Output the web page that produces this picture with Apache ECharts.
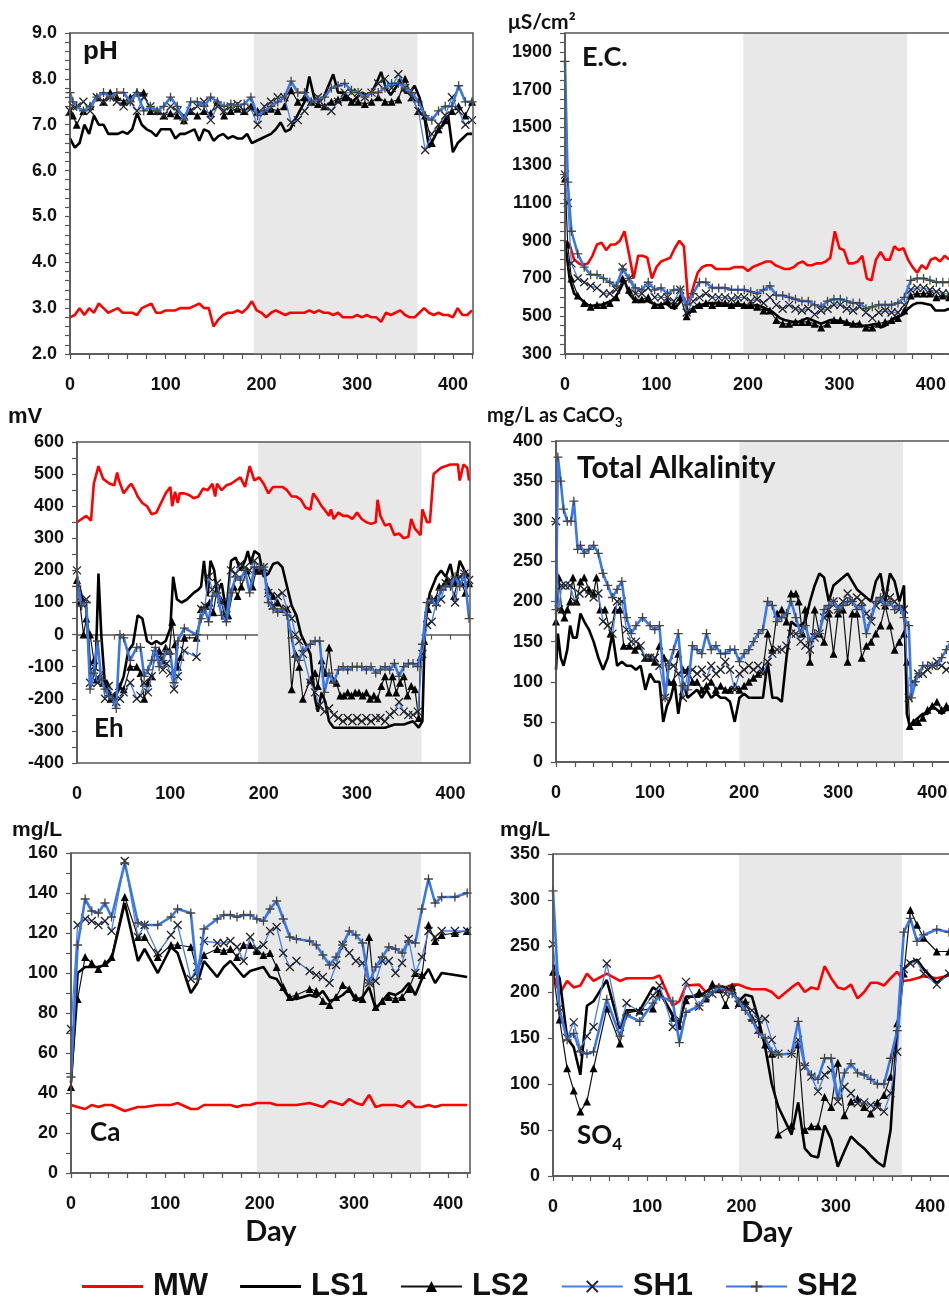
<!DOCTYPE html>
<html><head><meta charset="utf-8">
<script src="https://cdn.jsdelivr.net/npm/echarts@6/dist/echarts.min.js"></script>
<style>html,body{margin:0;padding:0;background:#fff}#c{width:949px;height:1298px}</style>
</head><body><div id="c"></div>
<script>
// ---------- pH ----------
const dayC = [0,5,10,15,20,25,30,35,40,45, 50,55,60,65,70,75,80,85,90,95, 100,105,110,115,120,125,130,135,140,145, 150,155,160,165,170,175,180,185,190,195, 200,205,210,215,220,225,230,235,240,245, 250,255,260,265,270,275,280,285,290,295, 300,305,310,315,320,325,330,335,340,345, 350,355,360,365,370,375,380,385,390,395, 400,405,410,415,420];
const dayW = [0,3,7,14,21,28,35,42,49,56, 63,70,77,84,91,98,105,112,119,126, 133,140,147,154,161,168,175,182,189,196, 203,210,217,224,231,238,245,252,259,266, 273,280,287,294,301,308,315,322,329,336, 343,350,357,364,371,378,385,392,399,406, 413,420];
const phMW = [2.8,2.85,3.0,2.85,3.0,2.9,3.1,3.0,2.9,2.95, 3.0,2.9,2.9,2.9,2.85,3.0,3.05,3.1,2.9,2.9, 2.95,2.95,2.95,3.0,3.0,3.0,3.05,3.1,3.0,3.0, 2.6,2.75,2.85,2.9,2.9,2.95,2.9,3.0,3.15,2.95, 2.9,2.8,2.9,2.95,2.9,2.85,2.9,2.9,2.9,2.9, 2.95,2.9,2.95,2.9,2.9,2.85,2.9,2.8,2.8,2.8, 2.85,2.8,2.85,2.8,2.8,2.7,2.9,2.85,2.9,2.95, 2.85,2.8,2.8,2.9,3.0,2.9,2.85,2.9,2.85,2.85, 2.8,3.0,2.85,2.85,2.95];
const phLS1 = [6.7,6.5,6.6,7.0,6.8,7.2,7.0,7.0,6.8,6.8, 6.8,6.85,6.8,6.9,7.25,7.0,6.9,6.85,6.75,6.9, 6.9,6.9,6.7,6.8,6.8,6.85,6.9,6.65,6.9,6.85, 6.65,6.75,6.8,6.7,6.75,6.7,6.7,6.8,6.6,6.65, 6.7,6.75,6.8,6.9,7.05,6.85,6.9,7.1,7.3,7.5, 8.05,7.6,7.5,7.6,7.85,8.1,7.7,7.7,7.6,7.5, 7.6,7.7,7.65,7.7,7.9,8.15,7.8,7.65,7.8,8.0, 7.7,7.7,7.85,7.6,7.2,6.5,6.7,6.9,7.0,7.2, 6.4,6.6,6.7,6.8,6.8];
const phLS2 = [7.3,7.2,7.0,7.3,7.4,7.6,7.5,7.7,7.6,7.5, 7.6,7.7,7.7,7.3,7.3,7.2,7.25,7.2,7.1,7.3, 7.2,7.3,7.25,7.5,7.2,7.3,7.35,7.3,7.4,7.3, 7.3,7.35,7.3,7.4,7.75,7.5,7.6,7.5,7.45,7.4, 7.5,7.55,7.6,7.5,7.5,7.45,7.5,7.6,7.5,7.5, 7.55,8.0,7.6,7.3,7.2,6.6,6.9,7.1,7.3,7.4, 7.2,7.5];
const phSH1 = [7.3,7.4,7.4,7.5,7.3,7.6,7.5,7.6,7.5,7.4, 7.5,7.3,7.6,7.4,7.3,7.2,7.4,7.3,7.2,7.3, 7.4,7.5,7.1,7.4,7.3,7.4,7.45,7.3,7.35,7.0, 7.4,7.5,7.6,7.6,7.05,7.1,7.3,7.5,7.6,7.4, 7.3,7.5,7.7,7.7,7.7,7.6,7.7,7.9,8.0,7.8, 8.1,7.8,7.6,7.3,6.45,6.8,7.0,7.2,7.6,7.3, 7.0,7.1];
const phSH2 = [7.7,7.5,7.4,7.3,7.4,7.6,7.7,7.6,7.7,7.7, 7.5,7.7,7.3,7.4,7.3,7.4,7.6,7.4,7.1,7.5, 7.5,7.4,7.6,7.5,7.4,7.45,7.4,7.45,7.6,7.2, 7.3,7.4,7.5,7.6,7.95,7.7,7.7,7.5,7.55,7.6, 7.8,7.85,7.9,7.75,7.7,7.6,7.7,7.7,7.8,7.9, 7.9,7.8,7.7,7.5,7.2,7.1,7.3,7.4,7.4,7.85, 7.5,7.5];

// ---------- E.C. ----------
const ecMW = [900,880,800,780,770,780,820,880,890,850, 880,880,900,950,830,700,820,820,810,700, 760,790,800,810,860,900,870,560,650,730, 760,770,770,750,750,750,750,760,760,760, 740,760,770,780,790,790,770,760,750,750, 760,780,790,770,770,780,780,790,810,950, 860,850,780,780,790,820,700,690,800,840, 800,800,870,850,860,800,760,730,770,750, 800,810,790,820,800];
const ecLS1 = [900,700,620,600,580,560,555,560,560,570, 580,600,640,690,620,590,580,580,580,570, 560,560,570,550,540,570,600,510,540,560, 560,570,570,570,570,560,560,560,560,560, 550,555,560,550,540,530,510,490,480,475, 470,470,480,490,480,470,460,470,480,480, 470,470,460,455,460,450,450,455,460,440, 450,470,490,500,510,540,560,570,570,565, 560,530,530,530,540];
const ecLS2 = [1230,880,700,610,570,550,560,560,570,600, 700,640,590,590,600,560,560,580,560,600, 500,540,560,570,560,570,570,560,570,560, 560,550,530,530,480,460,460,470,470,470, 460,440,460,480,480,470,460,460,440,440, 460,470,480,490,530,610,620,620,620,600, 610,600];
const ecSH1 = [1250,1100,780,700,680,660,650,620,620,640, 760,700,620,620,650,600,600,600,580,640, 520,580,600,620,600,600,600,590,600,600, 580,590,570,600,560,540,560,540,530,540, 510,530,540,560,560,540,530,550,520,490, 520,530,520,520,560,640,650,650,640,630, 620,620];
const ecSH2 = [1850,1210,950,830,760,720,720,700,680,660, 750,700,650,640,680,640,650,620,640,640, 560,620,680,680,650,650,650,640,640,640, 630,620,640,660,610,610,600,590,580,580, 560,550,580,590,590,580,570,570,540,550, 560,560,560,570,600,690,700,700,690,680, 680,680];

// ---------- Eh ----------
const ehMWd = [0,5,10,15,18,20,23,25,28,35, 40,43,45,50,55,58,62,65,70,75, 80,85,90,95,100,102,105,108,110,115, 120,125,130,135,140,145,148,150,155,160, 165,170,175,180,185,190,195,200,205,210, 215,220,225,230,235,240,245,250,253,258, 262,265,270,272,275,280,285,290,295,300, 305,310,315,320,322,325,330,335,340,345, 350,355,358,362,365,368,370,375,378,382, 390,400,408,410,414,418,420];
const ehMW = [350,360,370,355,470,470,525,520,485,470, 465,505,480,440,460,470,450,430,410,400, 375,380,410,440,460,400,445,410,440,440, 435,425,430,455,450,470,430,470,450,465, 470,480,490,460,525,480,490,470,440,460, 460,460,450,430,430,420,395,390,440,420, 400,390,370,390,360,380,370,370,360,380, 360,350,345,350,420,370,340,345,310,315, 300,305,360,330,320,310,390,350,350,500, 520,530,530,480,530,520,480];
const ehLS1d = [0,5,10,15,20,23,26,30,35,40, 45,50,55,60,65,70,75,80,85,90, 95,100,103,107,112,118,125,130,133,136, 140,143,147,150,155,160,165,170,175,180, 183,186,190,195,200,205,210,215,220,225, 230,235,240,245,250,255,258,262,266,270, 275,280,290,300,310,320,330,340,350,360, 366,370,373,378,385,390,395,400,405,410, 415,420];
const ehLS1 = [180,120,80,-150,-100,190,0,-160,-180,-200, -170,-130,-50,-30,60,50,-20,-30,-20,-30, -20,20,180,110,100,110,130,140,150,230, 120,230,200,130,160,70,230,240,200,230, 260,220,260,250,180,190,220,225,210,150, 90,60,0,-30,-60,-200,-240,-180,-210,-270, -290,-290,-290,-290,-290,-290,-290,-280,-280,-270, -290,-270,50,130,180,200,180,220,150,230, 200,180];
const ehLS2d = [0,3,7,10,14,18,21,25,28,32, 36,40,45,50,57,64,68,72,76,80, 84,88,91,95,99,102,105,108,111,115, 128,133,138,142,146,150,154,158,162,168, 172,176,182,188,192,196,200,205,210,215, 220,225,230,234,238,242,250,255,258,262, 266,270,274,278,282,286,290,294,298,302, 306,310,314,318,322,326,330,334,338,342, 346,350,354,358,362,366,368,372,376,380, 384,388,392,396,400,404,408,412,416,420];
const ehLS2 = [170,100,0,50,0,-80,-140,-130,-150,-150, -200,-190,-160,-170,-100,-100,-120,-200,-150,-130, -50,-50,-80,-40,-50,40,-30,-100,-70,-10, -10,80,90,100,70,140,110,60,60,150, 120,150,200,150,200,200,200,140,120,100, 80,80,-170,-60,-100,-200,-140,-120,-160,-80, -120,-40,-140,-150,-190,-190,-180,-190,-180,-180, -190,-180,-200,-190,-200,-160,-130,-180,-130,-180, -150,-130,-190,-160,-170,-260,-70,-20,80,110, 110,150,150,170,160,120,170,160,130,160];
const ehSHd = [0,5,10,14,18,22,26,30,34,38, 42,46,50,57,64,68,72,76,80,84, 88,92,96,100,104,108,115,128,133,137, 141,145,150,155,160,165,170,175,180,185, 190,195,200,205,210,215,220,225,230,234, 238,242,250,255,260,265,270,275,280,285, 290,295,300,305,310,315,320,325,330,335, 340,345,350,355,360,365,370,375,380,385, 390,395,400,405,410,415,420];
const ehSH1 = [200,100,110,-150,-100,-150,-120,-200,-160,-190, -210,-200,-180,-150,-200,-190,-150,-180,-130,-60, -70,-110,-90,-120,-170,-130,-50,-70,80,90, 180,140,160,100,60,200,190,220,210,200, 230,200,210,130,90,120,130,80,50,0, -20,-60,-150,-180,-220,-240,-230,-250,-260,-270, -260,-270,-260,-270,-260,-270,-260,-260,-270,-250, -240,-210,-240,-250,-250,-240,-60,30,40,100, 110,160,170,100,180,190,170];
const ehSH2 = [150,90,100,-170,-120,-20,-140,-170,-190,-200, -230,0,-10,-80,-40,-40,-130,-110,-80,-40, -100,-80,-50,-60,-150,-20,20,0,50,80, 40,120,130,60,40,130,180,170,200,130, 210,210,210,100,80,70,80,60,-10,-70, -80,-50,-30,-20,-20,-180,-120,-150,-110,-100, -110,-100,-100,-100,-110,-100,-120,-110,-100,-110, -90,-130,-100,-90,-90,-100,-30,100,110,90, 140,150,150,180,150,190,50];

// ---------- Total Alkalinity ----------
const alSH2d = [0,2,5,8,12,16,19,23,26,30, 35,40,45,50,55,60,65,70,75,80, 85,92,100,105,110,116,120,125,130,135, 140,145,150,155,160,165,170,175,180,185, 190,195,200,205,210,215,220,225,230,235, 240,245,250,255,260,265,270,275,280,285, 290,295,300,305,310,315,320,325,330,335, 340,345,350,355,360,365,370,375,378,382, 386,390,395,400,405,410,415,420];
const alSH2 = [190,380,350,315,300,300,325,265,270,260, 265,270,260,235,220,205,215,225,180,160, 170,180,170,165,170,80,120,140,160,95, 90,145,140,135,160,140,145,135,135,140, 140,125,135,140,150,160,165,200,195,175, 180,185,200,180,160,170,150,160,160,190, 195,200,190,195,200,200,190,195,160,180, 200,205,195,200,190,195,180,170,80,100, 110,120,120,120,120,130,140,150];
const alSH1d = [0,3,6,10,15,20,25,30,35,40, 45,50,55,60,65,70,75,80,85,90, 95,100,105,110,116,120,125,130,135,140, 145,150,155,160,165,170,175,180,185,190, 195,200,205,210,215,220,225,230,235,240, 245,250,255,260,265,270,275,280,285,290, 295,300,305,310,315,320,325,330,335,340, 345,350,355,360,365,370,375,380,385,390, 395,400,405,410,415,420];
const alSH1 = [300,190,220,220,220,200,210,215,210,205, 210,175,170,160,200,200,165,150,150,145, 130,130,130,120,80,125,120,110,80,110, 115,110,115,105,120,110,115,125,115,90, 110,115,120,115,120,110,125,135,140,140, 145,160,160,150,145,140,155,160,180,190, 200,190,200,210,200,205,200,185,175,195, 200,210,205,200,190,190,80,100,110,110, 115,120,125,120,115,120];
const alLS2d = [0,3,6,9,12,15,18,22,26,30, 35,40,43,47,52,58,63,68,72,78, 84,88,95,100,105,110,115,120,125,130, 135,140,145,150,155,160,165,170,175,180, 185,190,195,200,205,210,215,220,225,230, 235,240,245,250,255,258,262,265,270,275, 280,285,290,295,300,305,310,315,320,325, 330,335,340,345,350,355,360,365,370,373, 376,380,385,390,395,400,405,410,415,420];
const alLS2 = [175,230,190,180,190,200,230,200,225,230, 215,210,230,190,190,160,190,190,145,145, 140,145,130,130,125,145,130,100,100,135, 115,115,100,100,90,95,100,90,95,90, 90,95,90,95,100,105,110,115,160,140, 185,190,175,210,210,200,160,190,125,190, 160,150,185,135,185,190,125,185,185,130, 145,150,160,170,195,170,140,150,160,125, 45,50,50,55,65,70,75,65,70,70];
const alLS1d = [0,2,5,8,12,15,18,22,26,30, 35,40,45,50,55,60,65,70,75,80, 85,90,95,100,105,110,114,118,122,126, 130,135,140,145,150,155,160,165,170,175, 180,185,190,195,200,205,210,215,220,225, 230,235,240,245,250,255,260,265,270,275, 280,285,290,295,300,305,310,315,320,325, 330,335,340,345,350,355,360,365,370,373, 376,380,385,390,395,400,405,410,415,420];
const alLS1 = [115,160,130,120,140,170,155,155,185,175, 165,150,130,115,130,160,120,125,120,120, 115,120,90,110,100,100,50,70,80,100, 60,100,80,85,90,80,90,80,85,80, 80,75,50,80,85,80,80,80,80,125, 80,80,75,130,175,170,170,175,200,220, 235,230,200,220,225,230,235,225,215,210, 205,200,225,235,200,235,225,200,220,60, 45,50,55,60,60,70,65,60,65,65];

// ---------- Ca and SO4 (sampling days) ----------
const dayS = [0,7,15,22,29,36,43,57,71,78, 92,106,113,127,134,141,155,162,169,176, 183,190,197,204,211,218,225,232,239,253, 260,267,274,281,288,295,302,309,316,323, 330,337,344,351,358,365,372,379,386,393, 407,420];
const caMW = [34,33,32,34,33,34,34,31,33,33, 34,34,35,32,32,34,34,34,34,33, 34,34,35,35,35,34,34,34,34,35, 34,33,36,35,34,37,35,34,39,33, 34,34,34,33,36,33,33,34,33,34, 34,34];
const caLS1 = [45,100,103,103,103,104,107,135,106,112, 100,113,110,90,95,106,98,103,106,102, 98,101,102,103,98,97,92,87,87,89, 88,91,86,87,89,92,86,88,93,82, 86,90,89,91,95,89,97,102,95,100, 99,98];
const caLS2 = [43,87,108,105,102,105,108,138,118,118, 108,114,114,113,101,109,112,111,112,108, 114,114,111,109,110,103,93,88,89,92, 91,86,84,88,94,92,88,87,118,83, 86,88,87,88,92,100,99,124,116,119, 120,121];
const caSH1 = [72,124,127,126,124,126,121,156,118,124, 110,119,124,97,103,116,115,115,116,113, 106,118,112,114,121,123,110,103,106,101, 99,98,95,104,114,110,106,105,95,96, 106,106,100,105,117,100,108,121,118,121, 121,121];
const caSH2 = [48,114,137,131,130,135,128,155,125,124, 124,128,132,130,97,122,127,129,129,128, 129,129,127,126,132,136,127,118,117,116, 114,109,104,108,114,121,119,115,95,103, 108,113,112,110,116,115,132,147,135,138, 138,140];
const soMW = [220,198,212,205,207,220,212,220,212,215, 215,215,218,185,190,207,208,200,205,207, 205,208,208,205,203,203,203,200,193,205, 210,200,205,203,228,215,205,203,208,193, 200,210,210,207,215,222,212,213,215,217, 215,218];
const soLS1 = [230,215,150,140,110,185,190,213,160,180, 180,205,200,175,165,195,195,200,205,205, 205,200,190,197,195,170,140,100,75,45, 80,30,22,20,55,40,10,27,43,36, 30,22,15,10,50,160,225,232,235,225, 210,220];
const soLS2 = [222,170,117,93,70,81,117,182,144,177, 180,182,200,172,163,191,200,193,209,203, 186,206,188,190,172,159,143,133,45,55, 143,50,54,54,86,75,123,66,81,84, 75,68,80,88,108,166,220,289,273,259, 244,244];
const soSH1 = [252,183,150,167,139,152,162,231,162,188, 178,196,207,162,170,211,184,195,198,203, 198,203,186,185,180,170,171,148,133,133, 148,119,108,92,110,115,81,97,90,79, 80,77,75,70,90,135,225,231,233,220, 208,220];
const soSH2 = [310,180,148,155,135,133,135,192,152,175, 168,188,195,190,145,178,185,195,200,205, 202,198,190,180,170,155,150,135,132,133, 168,120,110,105,128,128,85,112,122,112, 110,105,100,100,128,158,265,280,255,262, 268,265];

const seriesNames = ['MW','LS1','LS2','SH1','SH2'];
const shade = [[192,363],[195,374],[194,369],[195,369],[197,371],[197,370]];

// ---------- layout & styles ----------
const grids = [
  {left:70, top:33, width:403, height:321},
  {left:565, top:33, width:386, height:321},
  {left:77, top:442, width:393, height:321},
  {left:556, top:441, width:396, height:321},
  {left:71, top:853, width:399, height:320},
  {left:553, top:854, width:397, height:322}
];
const xMax = [421,422,421,421,423,421];
const yCfg = [
  {min:2, max:9, interval:1, minor:5, fmt:v=>v.toFixed(1)},
  {min:300, max:2000, interval:100, minor:2, fmt:v=>(v%200===100 && v<2000)?String(v):''},
  {min:-400, max:600, interval:100, minor:2, fmt:v=>String(v)},
  {min:0, max:400, interval:50, minor:0, fmt:v=>String(v)},
  {min:0, max:160, interval:20, minor:2, fmt:v=>String(v)},
  {min:0, max:350, interval:50, minor:0, fmt:v=>String(v)}
];
const AX = '#555';
const LBL = {fontFamily:'"Liberation Sans", Arial, sans-serif', fontWeight:'bold', fontSize:18, color:'#111'};

const ST = {
  MW:  {symbol:'none', lineStyle:{color:'#ff0000', width:2.6}, itemStyle:{color:'#ff0000'}, z:3},
  LS1: {symbol:'none', lineStyle:{color:'#000', width:2.6}, itemStyle:{color:'#000'}, z:4},
  LS2: {symbol:'triangle', symbolSize:8, lineStyle:{color:'#111', width:1.2}, itemStyle:{color:'#000'}, z:5},
  SH1: {symbol:'path://M0,0L10,10M10,0L0,10', symbolSize:8, lineStyle:{color:'#4a7ee8', width:1.3}, itemStyle:{color:'#222', borderColor:'#222', borderWidth:1.3}, z:6},
  SH2: {symbol:'path://M5,0L5,10M0,5L10,5', symbolSize:9, lineStyle:{color:'#3b78e7', width:2.6}, itemStyle:{color:'#444', borderColor:'#444', borderWidth:1.3}, z:7}
};

const panels = [
  {MW:[dayC,phMW], LS1:[dayC,phLS1], LS2:[dayW,phLS2], SH1:[dayW,phSH1], SH2:[dayW,phSH2]},
  {MW:[dayC,ecMW], LS1:[dayC,ecLS1], LS2:[dayW,ecLS2], SH1:[dayW,ecSH1], SH2:[dayW,ecSH2]},
  {MW:[ehMWd,ehMW], LS1:[ehLS1d,ehLS1], LS2:[ehLS2d,ehLS2], SH1:[ehSHd,ehSH1], SH2:[ehSHd,ehSH2]},
  {LS1:[alLS1d,alLS1], LS2:[alLS2d,alLS2], SH1:[alSH1d,alSH1], SH2:[alSH2d,alSH2]},
  {MW:[dayS,caMW], LS1:[dayS,caLS1], LS2:[dayS,caLS2], SH1:[dayS,caSH1], SH2:[dayS,caSH2]},
  {MW:[dayS,soMW], LS1:[dayS,soLS1], LS2:[dayS,soLS2], SH1:[dayS,soSH1], SH2:[dayS,soSH2]}
];

const series = [];
panels.forEach((p, gi) => {
  seriesNames.forEach(nm => {
    if (!p[nm]) return;
    const [d, v] = p[nm];
    const s = Object.assign({
      name:nm, type:'line', xAxisIndex:gi, yAxisIndex:gi, showAllSymbol:true,
      animation:false, silent:true, emphasis:{disabled:true},
      data: d.map((x,i)=>[x, v[i]])
    }, JSON.parse(JSON.stringify(ST[nm])));
    if (nm === 'LS1') {
      s.markArea = {silent:true, itemStyle:{color:'#e8e8e8'}, data:[[{xAxis:shade[gi][0]},{xAxis:shade[gi][1]}]]};
    }
    series.push(s);
  });
});

const LINE_ICON = 'path://M0,0M61,14M0,5.6H61V8.4H0Z';
const BOLD_SANS = '"Liberation Sans", Arial, sans-serif';
const CAL = 'Lato, "Open Sans", sans-serif';
function txt(x, y, text, font, extra) {
  return Object.assign({type:'text', x:x, y:y, z:100, silent:true,
    style:Object.assign({text:text, font:font, fill:'#111', verticalAlign:'middle'}, extra || {})});
}

const option = {
  animation:false,
  backgroundColor:'#fff',
  grid: grids.map(g => Object.assign({show:true, z:10, backgroundColor:'transparent', borderColor:AX, borderWidth:1.5, containLabel:false, outerBoundsMode:'none'}, g)),
  xAxis: grids.map((g,i) => ({
    type:'value', gridIndex:i, min:0, max:xMax[i], interval:20,
    axisLine:{show:true, lineStyle:{color:AX, width:1.5}},
    axisTick:{show:true, length:5, lineStyle:{color:AX, width:1.2}},
    splitLine:{show:false},
    axisLabel:Object.assign({margin:22, showMaxLabel:false, formatter:v=>(v%100===0?String(v):'')}, LBL)
  })),
  yAxis: yCfg.map((c,i) => ({
    type:'value', gridIndex:i, min:c.min, max:c.max, interval:c.interval,
    axisLine:{show:true, lineStyle:{color:AX, width:1.5}},
    axisTick:{show:true, length:5, lineStyle:{color:AX, width:1.2}},
    minorTick:{show:c.minor>0, splitNumber:c.minor||1, length:5, lineStyle:{color:AX, width:1.2}},
    splitLine:{show:false},
    axisLabel:Object.assign({margin:13, formatter:c.fmt}, LBL)
  })),
  legend: {
    data:[{name:'MW', icon:LINE_ICON}, {name:'LS1', icon:LINE_ICON}, 'LS2', 'SH1', 'SH2'],
    left:82, top:1271, orient:'horizontal', padding:0,
    itemWidth:61, itemHeight:14, itemGap:32, selectedMode:false,
    textStyle:{fontFamily:BOLD_SANS, fontWeight:'bold', fontSize:31, color:'#111', padding:[0,0,0,5]}
  },
  graphic: [
    txt(83, 52, 'pH', 'bold 26px ' + BOLD_SANS),
    txt(582, 57, 'E.C.', 'bold 27px ' + CAL),
    txt(508, 22, 'μS/cm²', 'bold 21px ' + CAL),
    txt(8, 417, 'mV', 'bold 22px ' + BOLD_SANS),
    txt(94, 729, 'Eh', 'bold 26px ' + CAL),
    txt(487, 416, '{a|mg/L as CaCO}{s|3}', '', {rich:{
      a:{font:'bold 20px ' + CAL, fill:'#111', lineHeight:26},
      s:{font:'bold 13px ' + CAL, fill:'#111', verticalAlign:'bottom', lineHeight:13}}}),
    txt(577, 468, 'Total Alkalinity', 'bold 30px ' + CAL),
    txt(12, 830, 'mg/L', 'bold 21px ' + BOLD_SANS),
    txt(90, 1133, 'Ca', 'bold 26px ' + CAL),
    txt(500, 830, 'mg/L', 'bold 21px ' + BOLD_SANS),
    txt(577, 1136, '{a|SO}{s|4}', '', {rich:{
      a:{font:'bold 26px ' + CAL, fill:'#111', lineHeight:34},
      s:{font:'bold 17px ' + CAL, fill:'#111', verticalAlign:'bottom', lineHeight:17}}}),
    txt(271, 1232, 'Day', 'bold 29px ' + CAL, {align:'center'}),
    txt(767, 1233, 'Day', 'bold 29px ' + CAL, {align:'center'})
  ],
  series: series
};

const chart = echarts.init(document.getElementById('c'), null, {renderer:'canvas', width:949, height:1298});
chart.setOption(option);
</script>
</body></html>
